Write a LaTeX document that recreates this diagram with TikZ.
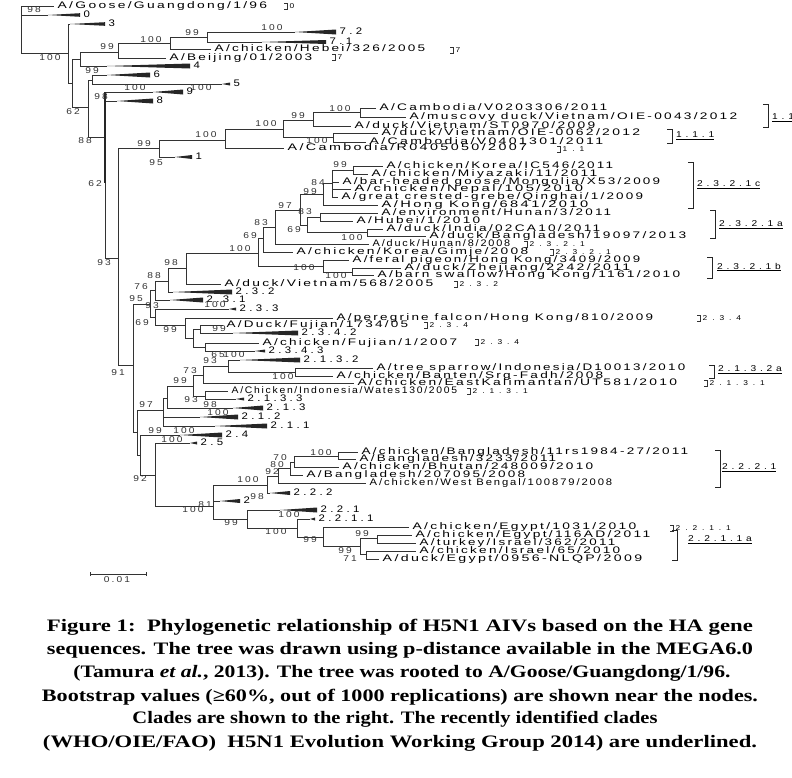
\documentclass[tikz,border=0pt]{standalone}
\usepackage{fontspec}
\usepackage{graphicx}
\setmainfont{Liberation Serif}
\newfontfamily\tf[FakeStretch=1.2,LetterSpace=20]{Liberation Sans}
\newfontfamily\tfb[FakeStretch=1.2,LetterSpace=25]{Liberation Sans}
\newfontfamily\tfw[FakeStretch=1.2,LetterSpace=35]{Liberation Sans}
\newfontfamily\tfc[FakeStretch=1.2,LetterSpace=45]{Liberation Sans}
\newfontfamily\tfs[FakeStretch=1.2,LetterSpace=70]{Liberation Sans}
\newfontfamily\capfont{Liberation Serif}
\newcounter{bvc}
\tikzset{
 br/.style={line width=0.8pt, draw=black!80},
 brk/.style={line width=1pt, draw=black!85},
 leaf/.style={anchor=west, inner xsep=3.5pt, inner ysep=0pt, text height=6.5pt, text depth=1pt, font=\tf\fontsize{9.5}{10}\selectfont},
 wlab/.style={anchor=west, inner xsep=3.5pt, inner ysep=0pt, text height=6.5pt, text depth=1pt, font=\tfw\fontsize{9.5}{10}\selectfont},
 bs/.style={inner sep=0pt, font=\tfb\fontsize{8.5}{9}\selectfont, text=black!80},
 cl/.style={anchor=west, inner sep=0pt, font=\tfc\fontsize{8.5}{9}\selectfont},
 cls/.style={anchor=west, inner sep=0pt, font=\tfs\fontsize{7}{7}\selectfont},
 captline/.style={inner sep=0pt, anchor=base, font=\capfont\bfseries\fontsize{17.5}{20}\selectfont}
}
\newcommand\lf[5]{\pgfmathsetlengthmacro\lfw{#4-#2-3.5}%
 \node[leaf] (#1) at (#2,#3) {\resizebox{\lfw}{\height}{#5}};}
\newcommand\wdg[6]{\coordinate (#1) at (#2,#4);
 \fill[black!85] (#2,#4) -- (#3,#4-#5) -- (#3,#4+#5) -- cycle;
 \node[wlab] (#1t) at (#3,#4) {#6};}
\newcommand\kids[2]{\foreach \c in {#2}{\draw[br] (#1) |- (\c);}}
\newcommand\bv[3]{\stepcounter{bvc}\node[bs] (bv\arabic{bvc}) at (#1,#2) {#3};}
\newcommand\sbr[3]{\stepcounter{bvc}\draw[br,line width=0.7pt] (#1-3,#2-3) -- (#1,#2-3) -- (#1,#2+3) -- (#1-3,#2+3);
 \node[cls] (sb\arabic{bvc}) at (#1+2.5,#2) {#3};}
\newcommand\bbr[6]{\stepcounter{bvc}\draw[brk] (#1-5,#2) -- (#1,#2) -- (#1,#3) -- (#1-5,#3);
 \node[cl] (cl\arabic{bvc}) at (#4,#5) {\underline{#6}};}
\begin{document}
\begin{tikzpicture}[x=1pt,y=-1pt]
\useasboundingbox (0,0) rectangle (792,777);
\fill[white] (0,0) rectangle (792,777);
\clip (0,0) rectangle (792,777);
% internal nodes
\coordinate (R0) at (21,30);
\coordinate (H) at (68,53);
\coordinate (L) at (72,83);
\coordinate (E) at (80,59);
\coordinate (C) at (118,52);
\coordinate (A) at (170,43);
\coordinate (B) at (207,37);
\coordinate (M) at (88,107);
\coordinate (F) at (92,80);
\coordinate (N) at (105,137);
\coordinate (Q) at (118,258);
\coordinate (R) at (159,148);
\coordinate (S) at (225,140);
\coordinate (T) at (283,129);
\coordinate (U) at (313,120);
\coordinate (W) at (360,112);
\coordinate (V) at (333,137.5);
\coordinate (Z9) at (133,365);
\coordinate (Z8) at (150,304);
\coordinate (Z7) at (155,290);
\coordinate (Z6) at (168,281);
\coordinate (Z5) at (186,268);
\coordinate (Z4) at (258,253);
\coordinate (Z3) at (263,238);
\coordinate (Z2) at (275,227);
\coordinate (Z1) at (300,210);
\coordinate (X2) at (323,194);
\coordinate (X1) at (332,183);
\coordinate (X0) at (353,170);
\coordinate (Y3) at (307,225);
\coordinate (Y1) at (320,217);
\coordinate (Y2) at (367,232.5);
\coordinate (P2) at (323,266);
\coordinate (P1) at (352,272);
\coordinate (Z8b) at (155,317);
\coordinate (K5) at (185,325);
\coordinate (K4) at (193,338);
\coordinate (K3) at (200,329);
\coordinate (K1) at (205,347);
\coordinate (G1) at (137,432);
\coordinate (T7) at (163,410);
\coordinate (T6) at (167,398);
\coordinate (T5) at (193,386);
\coordinate (T3) at (203,375);
\coordinate (T2) at (228,366);
\coordinate (T1) at (295,372);
\coordinate (T4) at (205,396);
\coordinate (G2) at (140,455);
\coordinate (G5) at (155,475);
\coordinate (B6) at (213,506);
\coordinate (B5) at (267,485);
\coordinate (B4) at (278,476);
\coordinate (B3) at (290,468);
\coordinate (B2) at (294,462);
\coordinate (B1) at (338,456);
\coordinate (E1) at (247,519);
\coordinate (E3) at (297,528);
\coordinate (E4) at (323,537);
\coordinate (E5) at (360,546);
\coordinate (E6) at (377,538);
\coordinate (E7) at (366,554);
% leaves: name, line end x, y, text end x, text
\lf{Goose}{54}{6}{267}{A/Goose/Guangdong/1/96}
\lf{Beijing}{166}{58}{312}{A/Beijing/01/2003}
\lf{Hebei}{211}{49}{425}{A/chicken/Hebei/326/2005}
\lf{CamVa}{376}{108}{607}{A/Cambodia/V0203306/2011}
\lf{muscovy}{406}{117}{737}{A/muscovy duck/Vietnam/OIE-0043/2012}
\lf{STv}{351}{126}{595}{A/duck/Vietnam/ST0970/2009}
\lf{OIEb}{378}{133}{640}{A/duck/Vietnam/OIE-0062/2012}
\lf{CamVb}{366}{142}{603}{A/Cambodia/V0401301/2011}
\lf{CamR}{284}{148}{527}{A/Cambodia/R0405050/2007}
\lf{ICk}{383}{166}{613}{A/chicken/Korea/IC546/2011}
\lf{Miyaz}{368}{174}{597}{A/chicken/Miyazaki/11/2011}
\lf{barhead}{339}{182}{660}{A/bar-headed goose/Mongolia/X53/2009}
\lf{Nepal}{351}{189}{583}{A/chicken/Nepal/105/2010}
\lf{grebe}{338}{197}{643}{A/great crested-grebe/Qinghai/1/2009}
\lf{HKa}{378}{205}{588}{A/Hong Kong/6841/2010}
\lf{envir}{378}{213}{611}{A/environment/Hunan/3/2011}
\lf{Hubei}{353}{221}{480}{A/Hubei/1/2010}
\lf{India}{383}{229}{600}{A/duck/India/02CA10/2011}
\lf{Banga}{426}{236}{686}{A/duck/Bangladesh/19097/2013}
\lf{Hunan}{369}{244}{510}{A/duck/Hunan/8/2008}
\lf{Gimje}{293}{252}{528}{A/chicken/Korea/Gimje/2008}
\lf{feral}{349}{260}{640}{A/feral pigeon/Hong Kong/3409/2009}
\lf{Zhej}{401}{268}{630}{A/duck/Zhejiang/2242/2011}
\lf{barn}{374}{275}{680}{A/barn swallow/Hong Kong/1161/2010}
\lf{VNd}{221}{284}{433}{A/duck/Vietnam/568/2005}
\lf{peregr}{333}{318}{653}{A/peregrine falcon/Hong Kong/810/2009}
\lf{DFuj}{223}{325}{408}{A/Duck/Fujian/1734/05}
\lf{cFuj}{259}{343}{457}{A/chicken/Fujian/1/2007}
\lf{sparrow}{373}{368}{685}{A/tree sparrow/Indonesia/D10013/2010}
\lf{Banten}{333}{376}{603}{A/chicken/Banten/Srg-Fadh/2008}
\lf{EKal}{354}{383}{677}{A/chicken/EastKalimantan/UT581/2010}
\lf{Wates}{228}{391}{457}{A/Chicken/Indonesia/Wates130/2005}
\lf{rsa}{358}{452}{688}{A/chicken/Bangladesh/11rs1984-27/2011}
\lf{Bngb}{356}{459}{556}{A/Bangladesh/3233/2011}
\lf{Bhutan}{339}{467}{593}{A/chicken/Bhutan/248009/2010}
\lf{Bngc}{303}{475}{525}{A/Bangladesh/207095/2008}
\lf{WBeng}{366}{483}{612}{A/chicken/West Bengal/100879/2008}
\lf{Eg1}{409}{527}{636}{A/chicken/Egypt/1031/2010}
\lf{Eg2}{412}{535}{650}{A/chicken/Egypt/116AD/2011}
\lf{turkey}{416}{543}{615}{A/turkey/Israel/362/2011}
\lf{Isr}{416}{551}{620}{A/chicken/Israel/65/2010}
\lf{dEg}{379}{559}{642}{A/duck/Egypt/0956-NLQP/2009}
% collapsed clades
\wdg{wa}{48}{80}{15}{1.8}{0}
\wdg{wb}{70}{105}{24}{1.8}{3}
\wdg{wc}{295}{336}{32}{2.5}{7.2}
\wdg{wd}{262}{326}{42}{2}{7.1}
\wdg{we}{107}{190}{66}{2.5}{4}
\wdg{wf}{107}{150}{75}{2.5}{6}
\wdg{wg}{222}{230}{84}{1.5}{5}
\wdg{wh}{153}{183}{92}{2.5}{9}
\wdg{wi}{117}{153}{101}{2.5}{8}
\wdg{wj}{175}{192}{157}{2}{1}
\wdg{wk}{173}{232}{292}{2.5}{2.3.2}
\wdg{wl}{170}{203}{300}{2.5}{2.3.1}
\wdg{wm}{229}{236}{309}{1.5}{2.3.3}
\wdg{wn}{233}{298}{333}{2.5}{2.3.4.2}
\wdg{wo}{255}{265}{351}{1.5}{2.3.4.3}
\wdg{wp}{240}{300}{360}{2.5}{2.1.3.2}
\wdg{wq}{236}{244}{399}{1.5}{2.1.3.3}
\wdg{wr}{233}{263}{408}{2.5}{2.1.3}
\wdg{ws}{200}{238}{417}{2.5}{2.1.2}
\wdg{wt}{215}{267}{426}{2.5}{2.1.1}
\wdg{wu}{180}{222}{435}{2.5}{2.4}
\wdg{wv}{190}{197}{443}{1.5}{2.5}
\wdg{ww}{220}{240}{501}{2}{2}
\wdg{wx}{270}{290}{493}{2}{2.2.2}
\wdg{wy}{280}{317}{510}{2.5}{2.2.1}
\wdg{wz}{310}{315}{519}{1.5}{2.2.1.1}
% branches
\kids{R0}{Goose,wa,H}
\kids{H}{wb,L}
\kids{L}{E,M}
\kids{E}{C,we}
\kids{C}{A,Beijing}
\kids{A}{B,Hebei}
\kids{B}{wc,wd}
\kids{M}{F,N}
\kids{F}{wf,wg}
\kids{N}{wh,wi,Q}
\kids{Q}{R,Z9}
\kids{R}{S,wj}
\kids{S}{T,CamR}
\kids{T}{U,V}
\kids{U}{W,STv}
\kids{W}{CamVa,muscovy}
\kids{V}{OIEb,CamVb}
\kids{Z9}{Z8,G1}
\kids{Z8}{Z7,Z8b}
\kids{Z7}{Z6,wl}
\kids{Z6}{Z5,wk}
\kids{Z5}{Z4,VNd}
\kids{Z4}{Z3,P2}
\kids{Z3}{Z2,Gimje}
\kids{Z2}{Z1,Hunan}
\kids{Z1}{X2,Y3}
\kids{X2}{X1,HKa}
\kids{X1}{X0,barhead,Nepal,grebe}
\kids{X0}{ICk,Miyaz}
\kids{Y3}{Y1,Y2}
\kids{Y1}{envir,Hubei}
\kids{Y2}{India,Banga}
\kids{P2}{feral,P1}
\kids{P1}{Zhej,barn}
\kids{Z8b}{wm,K5}
\kids{K5}{peregr,K4}
\kids{K4}{K3,K1}
\kids{K3}{DFuj,wn}
\kids{K1}{cFuj,wo}
\kids{G1}{T7,G2}
\kids{T7}{T6,ws,wt}
\kids{T6}{T5,wr}
\kids{T5}{T3,T4}
\kids{T3}{T2,EKal}
\kids{T2}{wp,T1}
\kids{T1}{sparrow,Banten}
\kids{T4}{Wates,wq}
\kids{G2}{wu,G5}
\kids{G5}{wv,B6}
\kids{B6}{B5,ww,E1}
\kids{B5}{B4,wx}
\kids{B4}{B3,WBeng}
\kids{B3}{B2,Bngc}
\kids{B2}{B1,Bhutan}
\kids{B1}{rsa,Bngb}
\kids{E1}{wy,E3}
\kids{E3}{wz,E4}
\kids{E4}{Eg1,E5}
\kids{E5}{E6,E7}
\kids{E6}{Eg2,turkey}
\kids{E7}{Isr,dEg}
\coordinate (thk) at (105,183);
\draw[line width=1.8pt,black!85] (wh -| N) -- (thk);
% bootstrap values
\bv{34}{10}{98}\bv{50}{58}{100}\bv{272}{28}{100}\bv{192}{33}{99}
\bv{151}{40}{100}\bv{107}{47}{99}\bv{92}{71}{99}\bv{73}{112}{62}
\bv{85}{141}{88}\bv{135}{88}{100}\bv{201}{88}{100}\bv{101}{97}{98}
\bv{95}{184}{62}\bv{104}{263}{93}\bv{118}{373}{91}\bv{144}{144}{99}
\bv{156}{163}{95}\bv{206}{135}{100}\bv{266}{124}{100}\bv{298}{116}{99}
\bv{340}{109}{100}\bv{317}{141}{100}\bv{340}{165}{99}\bv{318}{183}{84}
\bv{310}{192}{99}\bv{285}{206}{97}\bv{305}{212}{83}\bv{294}{230}{69}
\bv{352}{238}{100}\bv{261}{223}{83}\bv{250}{236}{69}\bv{240}{249}{100}
\bv{304}{268}{100}\bv{336}{276}{100}\bv{171}{263}{98}\bv{154}{276}{88}
\bv{141}{287}{76}\bv{136}{299}{95}\bv{152}{306}{93}\bv{215}{305}{100}
\bv{142}{323}{69}\bv{170}{330}{99}\bv{219}{329}{99}\bv{218}{355}{65}
\bv{234}{355}{100}\bv{210}{361}{93}\bv{283}{377}{100}\bv{190}{371}{73}
\bv{180}{381}{99}\bv{191}{400}{93}\bv{210}{405}{98}\bv{146}{405}{97}
\bv{218}{413}{100}\bv{155}{431}{99}\bv{184}{431}{100}\bv{172}{440}{100}
\bv{140}{479}{92}\bv{280}{458}{70}\bv{277}{465}{80}\bv{272}{472}{92}
\bv{321}{453}{100}\bv{248}{480}{100}\bv{257}{497}{98}\bv{205}{505}{81}
\bv{193}{510}{100}\bv{289}{515}{100}\bv{231}{523}{99}\bv{276}{532}{100}
\bv{310}{540}{99}\bv{362}{534}{99}\bv{345}{551}{99}\bv{350}{559}{71}
% clade marks
\sbr{287}{6}{0}
\sbr{453}{50}{7}
\sbr{335}{57}{7}
\sbr{560}{149}{1.1}
\sbr{527}{244}{2.3.2.1}
\sbr{553}{252}{2.3.2.1}
\sbr{457}{284}{2.3.2}
\sbr{700}{318}{2.3.4}
\sbr{427}{325}{2.3.4}
\sbr{478}{342}{2.3.4}
\sbr{707}{383}{2.1.3.1}
\sbr{470}{391}{2.1.3.1}
\sbr{673}{528}{2.2.1.1}
\bbr{768}{104}{127}{772}{118}{1.1.2}
\bbr{672}{129}{143}{676}{136}{1.1.1}
\bbr{693}{162}{208}{697}{185}{2.3.2.1c}
\bbr{715}{210}{238}{719}{225}{2.3.2.1a}
\bbr{712}{257}{278}{717}{267}{2.3.2.1b}
\bbr{714}{365}{378}{718}{370}{2.1.3.2a}
\bbr{720}{450}{487}{722}{468}{2.2.2.1}
\bbr{677}{530}{560}{688}{540}{2.2.1.1a}
% scale bar
\coordinate (sa) at (90,574);
\coordinate (sb) at (146,574);
\draw[br] (sa) -- (sb);
\draw[br] ([yshift=-2pt]sa) -- ([yshift=2pt]sa);
\draw[br] ([yshift=-2pt]sb) -- ([yshift=2pt]sb);
\node[bs] (scl) at (117,580) {0.01};
% caption (anchored on baselines)
\node[captline] (cap1) at (400,631) {\resizebox{706pt}{\height}{Figure 1:\ \ Phylogenetic relationship of H5N1 AIVs based on the HA gene}};
\node[captline] (cap2) at (400,654) {\resizebox{706pt}{\height}{sequences. The tree was drawn using p-distance available in the MEGA6.0}};
\node[captline] (cap3) at (402,677) {\resizebox{657pt}{\height}{(Tamura \textit{et al.}, 2013). The tree was rooted to A/Goose/Guangdong/1/96.}};
\node[captline] (cap4) at (400,701) {\resizebox{716pt}{\height}{Bootstrap values (≥60\%, out of 1000 replications) are shown near the nodes.}};
\node[captline] (cap5) at (395,723) {\resizebox{525pt}{\height}{Clades are shown to the right. The recently identified clades}};
\node[captline] (cap6) at (400,747) {\resizebox{714pt}{\height}{(WHO/OIE/FAO)\ \ H5N1 Evolution Working Group 2014) are underlined.}};
\end{tikzpicture}
\end{document}
